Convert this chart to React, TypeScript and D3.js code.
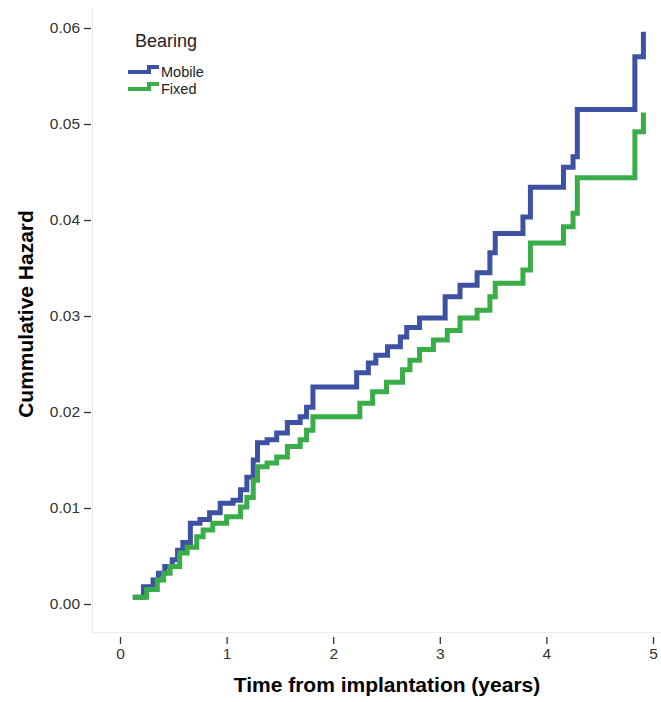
import React, { useEffect, useRef } from 'react';
import * as d3 from 'd3';

// cumulative hazard steps
const mobileTime = [0.12, 0.22, 0.31, 0.36, 0.42, 0.49, 0.54, 0.59, 0.66, 0.75, 0.84, 0.94, 1.06, 1.13, 1.19, 1.25, 1.29, 1.38, 1.47, 1.57, 1.69, 1.75, 1.81, 2.22, 2.33, 2.4, 2.51, 2.63, 2.69, 2.81, 3.05, 3.19, 3.35, 3.47, 3.52, 3.78, 3.85, 4.16, 4.25, 4.29, 4.83, 4.91];
const mobileHazard = [0.0007, 0.0018, 0.0025, 0.0032, 0.0039, 0.0046, 0.0056, 0.0064, 0.0084, 0.0088, 0.0095, 0.0105, 0.0108, 0.0119, 0.0132, 0.015, 0.0168, 0.0171, 0.0178, 0.0189, 0.0195, 0.0205, 0.0226, 0.0241, 0.0251, 0.0259, 0.0268, 0.0278, 0.0288, 0.0298, 0.032, 0.0332, 0.0345, 0.0366, 0.0386, 0.0403, 0.0434, 0.0455, 0.0466, 0.0515, 0.057, 0.0596];

const fixedTime = [0.12, 0.25, 0.35, 0.41, 0.47, 0.56, 0.63, 0.72, 0.78, 0.87, 1.0, 1.13, 1.19, 1.25, 1.29, 1.38, 1.47, 1.57, 1.69, 1.75, 1.81, 2.25, 2.37, 2.5, 2.65, 2.72, 2.81, 2.94, 3.07, 3.19, 3.35, 3.47, 3.52, 3.78, 3.85, 4.16, 4.25, 4.29, 4.83, 4.91];
const fixedHazard = [0.0007, 0.0015, 0.0025, 0.0032, 0.0039, 0.0053, 0.0059, 0.007, 0.0077, 0.0084, 0.0091, 0.0101, 0.0111, 0.0129, 0.0143, 0.0147, 0.0153, 0.0164, 0.0171, 0.0181, 0.0195, 0.0209, 0.0221, 0.0231, 0.0244, 0.0254, 0.0265, 0.0275, 0.0285, 0.0298, 0.0306, 0.032, 0.0334, 0.0348, 0.0376, 0.0393, 0.0407, 0.0444, 0.0492, 0.0512];

const xTicks = [0, 1, 2, 3, 4, 5];
const yTicks = [0, 0.01, 0.02, 0.03, 0.04, 0.05, 0.06];

const seriesNames = ['Mobile', 'Fixed'];
const seriesColors = ['#3e51a3', '#3aad48'];

const width = 661;
const height = 702;

export default function App() {
  const ref = useRef<SVGSVGElement>(null);

  useEffect(() => {
    const svg = d3.select(ref.current);
    svg.selectAll('*').remove();

    const x = d3.scaleLinear().domain([0, 5]).range([120, 653]);
    const y = d3.scaleLinear().domain([0, 0.06]).range([604, 28]);

    // faint frame
    svg.append('line')
      .attr('x1', 92.5).attr('x2', 92.5).attr('y1', 8).attr('y2', 632.5)
      .attr('stroke', '#ececec');
    svg.append('line')
      .attr('x1', 92.5).attr('x2', width).attr('y1', 632.5).attr('y2', 632.5)
      .attr('stroke', '#ececec');

    const yAxis = svg.append('g')
      .attr('transform', 'translate(91,0)')
      .call(d3.axisLeft(y).tickValues(yTicks).tickFormat(d3.format('.2f')).tickSize(7).tickPadding(4));
    const xAxis = svg.append('g')
      .attr('transform', 'translate(0,637)')
      .call(d3.axisBottom(x).tickValues(xTicks).tickFormat(d3.format('d')).tickSize(7).tickPadding(4));

    [yAxis, xAxis].forEach(g => {
      g.select('.domain').remove();
      g.selectAll('line').attr('stroke', '#333').attr('stroke-width', 1.3);
      g.selectAll('text')
        .attr('font-family', 'Liberation Sans, Arial, sans-serif')
        .attr('font-size', 15.5)
        .attr('fill', '#333');
    });

    const line = d3.line<[number, number]>()
      .x(d => x(d[0]))
      .y(d => y(d[1]))
      .curve(d3.curveStepAfter);

    const series = [
      mobileTime.map((t, i) => [t, mobileHazard[i]] as [number, number]),
      fixedTime.map((t, i) => [t, fixedHazard[i]] as [number, number]),
    ];

    series.forEach((s, i) => {
      svg.append('path')
        .datum(s)
        .attr('d', line)
        .attr('fill', 'none')
        .attr('stroke', seriesColors[i])
        .attr('stroke-width', 5)
        .attr('stroke-linejoin', 'miter');
    });

    // legend
    const legend = svg.append('g').attr('font-family', 'Liberation Sans, Arial, sans-serif');
    legend.append('text')
      .attr('x', 135).attr('y', 47)
      .attr('font-size', 18).attr('fill', '#222')
      .text('Bearing');
    seriesNames.forEach((name, i) => {
      const ly = 72 + i * 17;
      legend.append('path')
        .attr('d', `M128,${ly}H149V${ly - 5}H159`)
        .attr('fill', 'none')
        .attr('stroke', seriesColors[i])
        .attr('stroke-width', 4);
      legend.append('text')
        .attr('x', 161).attr('y', ly + 5)
        .attr('font-size', 14.5).attr('fill', '#222')
        .text(name);
    });

    // axis titles
    svg.append('text')
      .attr('transform', 'translate(33,314) rotate(-90)')
      .attr('text-anchor', 'middle')
      .attr('font-family', 'Liberation Sans, Arial, sans-serif')
      .attr('font-weight', 'bold')
      .attr('font-size', 21)
      .text('Cummulative Hazard');
    svg.append('text')
      .attr('x', 387).attr('y', 692)
      .attr('text-anchor', 'middle')
      .attr('font-family', 'Liberation Sans, Arial, sans-serif')
      .attr('font-weight', 'bold')
      .attr('font-size', 21)
      .text('Time from implantation (years)');
  }, []);

  return (
    <svg
      ref={ref}
      width={width}
      height={height}
      style={{ position: 'absolute', left: 0, top: 0, background: '#fff' }}
    />
  );
}
